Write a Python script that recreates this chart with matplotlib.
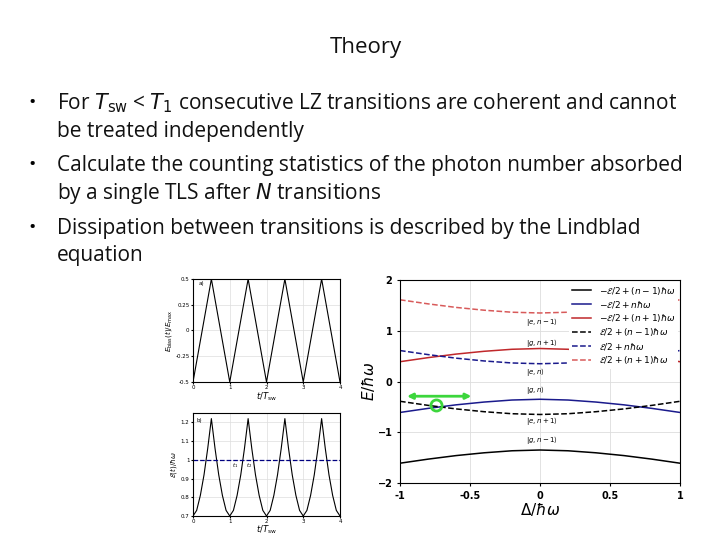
import numpy as np
import matplotlib.pyplot as plt

# data
delta = [-1.0, -0.8, -0.6, -0.4, -0.2, 0.0, 0.2, 0.4, 0.6, 0.8, 1.0]
eps_delta = [1.22, 1.06, 0.92, 0.81, 0.73, 0.70, 0.73, 0.81, 0.92, 1.06, 1.22]  # Ɛ/ħω
t_a = [0, 0.5, 1, 1.5, 2, 2.5, 3, 3.5, 4]
ebias_a = [-0.5, 0.5, -0.5, 0.5, -0.5, 0.5, -0.5, 0.5, -0.5]
t_b = [0, 0.1, 0.2, 0.3, 0.4, 0.5, 0.6, 0.7, 0.8, 0.9, 1.0]
eps_b = [0.70, 0.73, 0.81, 0.92, 1.06, 1.22, 1.06, 0.92, 0.81, 0.73, 0.70]
bullets = [
    ("For $T_{\\rm sw}$ < $T_1$ consecutive LZ transitions are coherent and cannot", "be treated independently"),
    ("Calculate the counting statistics of the photon number absorbed", "by a single TLS after $N$ transitions"),
    ("Dissipation between transitions is described by the Lindblad", "equation"),
]

fig = plt.figure(figsize=(7.2, 5.4), dpi=100)
fig.text(366/720, 1-48/540, "Theory", ha='center', va='center', fontsize=16, family='Open Sans', color='#111')
ys = [103, 165, 228]
for (l1, l2), y in zip(bullets, ys):
    fig.text(28/720, 1-y/540, "•", fontsize=14, va='center', family='Open Sans')
    fig.text(57/720, 1-y/540, l1, fontsize=15.0, va='center', family='Open Sans', color='#111')
    fig.text(57/720, 1-(y+28)/540, l2, fontsize=15.0, va='center', family='Open Sans', color='#111')

def ax_px(x0, y0, x1, y1):
    return fig.add_axes([x0/720, 1-y1/540, (x1-x0)/720, (y1-y0)/540])

sm = 4
# panel a
axa = ax_px(193, 279, 340, 382)
axa.plot(t_a, ebias_a, color='k', lw=0.8)
axa.set_xlim(0, 4); axa.set_ylim(-0.5, 0.5)
axa.set_yticks([-0.5, -0.25, 0, 0.25, 0.5]); axa.set_yticklabels(['-0.5', '-0.25', '0', '0.25', '0.5'])
axa.set_xticks([0, 1, 2, 3, 4])
axa.grid(color='#ddd', lw=0.5)
axa.tick_params(labelsize=sm, length=1.5, pad=1)
axa.set_xlabel(r'$t/T_{\rm sw}$', fontsize=6, labelpad=0)
axa.set_ylabel(r'$E_{\rm bias}(t)/E_{\rm max}$', fontsize=5, labelpad=1)
axa.text(0.15, 0.44, 'a)', fontsize=4)

# panel b
axb = ax_px(193, 413, 340, 516)
for k in range(4):
    axb.plot([k + t for t in t_b], eps_b, color='k', lw=0.8)
axb.axhline(1.0, color='navy', ls='--', lw=0.9)
axb.set_xlim(0, 4); axb.set_ylim(0.7, 1.25)
axb.set_yticks([0.7, 0.8, 0.9, 1.0, 1.1, 1.2]); axb.set_yticklabels(['0.7', '0.8', '0.9', '1', '1.1', '1.2'])
axb.set_xticks([0, 1, 2, 3, 4])
axb.grid(color='#ddd', lw=0.5)
axb.tick_params(labelsize=sm, length=1.5, pad=1)
axb.set_xlabel(r'$t/T_{\rm sw}$', fontsize=6, labelpad=-1)
axb.set_ylabel(r'$\mathcal{E}(t)/\hbar\omega$', fontsize=5, labelpad=1)
axb.text(0.1, 1.2, 'b)', fontsize=4)
axb.text(1.05, 0.96, r'$t_1$', fontsize=4); axb.text(1.45, 0.96, r'$t_2$', fontsize=4)

# right panel
axr = ax_px(400, 280, 680, 483)
e = np.array(eps_delta)
styles = [(-1, 'k', '-', r'$-\mathcal{E}/2+(n-1)\hbar\omega$', -0.5),
          (0, '#1a1a8c', '-', r'$-\mathcal{E}/2+n\hbar\omega$', -0.5),
          (1, '#c0282b', '-', r'$-\mathcal{E}/2+(n+1)\hbar\omega$', -0.5),
          (-1, 'k', '--', r'$\mathcal{E}/2+(n-1)\hbar\omega$', 0.5),
          (0, '#1a1a8c', '--', r'$\mathcal{E}/2+n\hbar\omega$', 0.5),
          (1, '#d85a5a', '--', r'$\mathcal{E}/2+(n+1)\hbar\omega$', 0.5)]
for k, c, ls, lab, s in styles:
    axr.plot(delta, s*e + k, color=c, ls=ls, lw=1.1, label=lab)
axr.set_xlim(-1, 1); axr.set_ylim(-2, 2)
axr.set_xticks([-1, -0.5, 0, 0.5, 1]); axr.set_xticklabels(['-1', '-0.5', '0', '0.5', '1'])
axr.set_yticks([-2, -1, 0, 1, 2])
axr.tick_params(labelsize=7, length=2)
for t in axr.get_xticklabels() + axr.get_yticklabels():
    t.set_fontweight('bold')
axr.grid(color='#ddd', lw=0.6)
axr.set_xlabel(r'$\Delta/\hbar\omega$', fontsize=11, labelpad=0)
axr.set_ylabel(r'$E/\hbar\omega$', fontsize=11, labelpad=0)
leg = axr.legend(loc='upper right', fontsize=6.5, frameon=True, framealpha=1, edgecolor='none',
                 borderpad=0.3, handlelength=2.2, labelspacing=0.25, borderaxespad=0.2)
for txt, y in [(r'$|e,n-1\rangle$', 1.17), (r'$|g,n+1\rangle$', 0.75), (r'$|e,n\rangle$', 0.19),
               (r'$|g,n\rangle$', -0.17), (r'$|e,n+1\rangle$', -0.78), (r'$|g,n-1\rangle$', -1.15)]:
    axr.text(-0.1, y, txt, fontsize=5, va='center')
axr.annotate('', xy=(-0.97, -0.29), xytext=(-0.47, -0.29),
             arrowprops=dict(arrowstyle='<|-|>', color='#3cd63c', lw=2, mutation_scale=8))
axr.plot([-0.74], [-0.47], 'o', ms=8, mfc='none', mec='#3cd63c', mew=2)

fig.savefig('out.png', dpi=100)
